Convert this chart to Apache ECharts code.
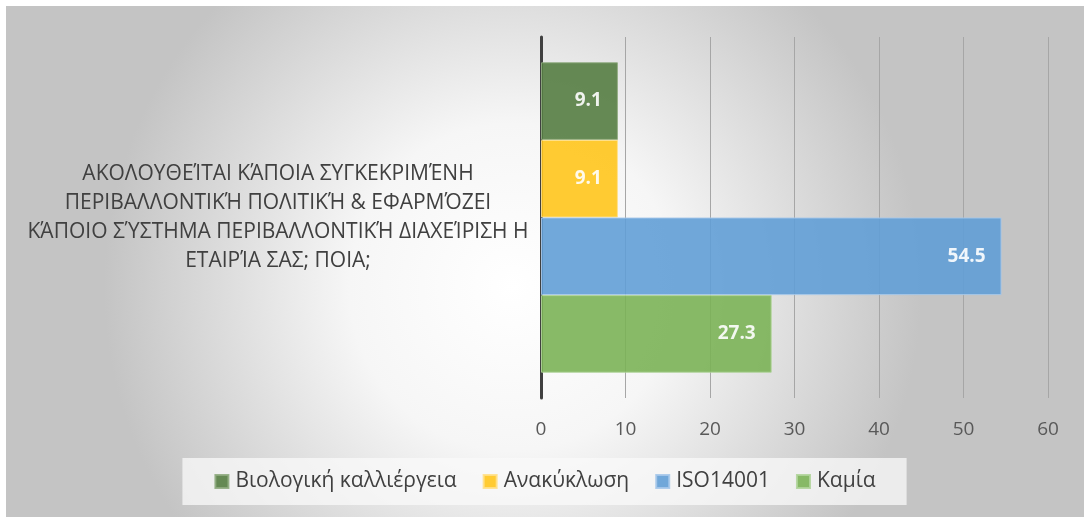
<!DOCTYPE html>
<html>
<head>
<meta charset="utf-8">
<script src="https://cdn.jsdelivr.net/npm/echarts@6/dist/echarts.min.js"></script>
<style>
  html, body { margin: 0; padding: 0; background: #fff; }
  #chart { position: absolute; left: 6px; top: 6px; width: 1078px; height: 511px; }
</style>
</head>
<body>
<div id="chart"></div>
<script>
const categories = ['ΑΚΟΛΟΥΘΕΊΤΑΙ ΚΆΠΟΙΑ ΣΥΓΚΕΚΡΙΜΈΝΗ\nΠΕΡΙΒΑΛΛΟΝΤΙΚΉ ΠΟΛΙΤΙΚΉ & ΕΦΑΡΜΌΖΕΙ\nΚΆΠΟΙΟ ΣΎΣΤΗΜΑ ΠΕΡΙΒΑΛΛΟΝΤΙΚΉ ΔΙΑΧΕΊΡΙΣΗ Η\nΕΤΑΙΡΊΑ ΣΑΣ; ΠΟΙΑ;'];
const seriesNames = ['Βιολογική καλλιέργεια', 'Ανακύκλωση', 'ISO14001', 'Καμία'];
const seriesValues = [[9.1], [9.1], [54.5], [27.3]];
const seriesColors = ['#557d42', '#ffc51c', '#629fd6', '#7bb356'];
const borderColors = ['#8fab80', '#ffe08a', '#a6c8ea', '#b0d49a'];
const xTicks = [0, 10, 20, 30, 40, 50, 60];

const font = '"Open Sans", "Noto Sans", sans-serif';
const chart = echarts.init(document.getElementById('chart'));

const series = seriesNames.map((name, i) => ({
  name,
  type: 'bar',
  data: seriesValues[i],
  barGap: '0%',
  barCategoryGap: '14%',
  itemStyle: {
    color: seriesColors[i],
    opacity: 0.9,
    borderColor: borderColors[i],
    borderWidth: 1
  },
  label: {
    show: true,
    position: 'insideRight',
    distance: 16,
    color: '#fff',
    fontFamily: font,
    fontWeight: 'bold',
    fontSize: 19
  }
}));

chart.setOption({
  backgroundColor: {
    type: 'radial', x: 0.47, y: 0.55, r: 0.8,
    colorStops: [
      { offset: 0, color: '#ffffff' },
      { offset: 0.4, color: '#f6f6f6' },
      { offset: 1, color: '#c4c4c4' }
    ]
  },
  animation: false,
  textStyle: { fontFamily: font },
  grid: { left: 535, right: 36, top: 31, bottom: 119 },
  legend: {
    bottom: 12,
    left: 'center',
    backgroundColor: 'rgba(250,250,250,0.75)',
    padding: [13, 31, 13, 32],
    itemWidth: 13,
    itemHeight: 13,
    itemGap: 26,
    icon: 'rect',
    textStyle: { color: '#404040', fontSize: 21, fontFamily: font, padding: [0, 0, 0, 2] },
    data: seriesNames
  },
  xAxis: {
    type: 'value',
    min: 0,
    max: 60,
    interval: 10,
    axisLine: { show: false },
    axisTick: { show: false },
    splitLine: { lineStyle: { color: '#a6a6a6', width: 1 } },
    axisLabel: {
      color: '#595959', fontSize: 19, margin: 22, fontFamily: font,
      formatter: v => xTicks.includes(v) ? String(v) : ''
    }
  },
  yAxis: {
    type: 'category',
    data: categories,
    inverse: true,
    axisLine: { show: true, lineStyle: { color: '#404040', width: 3 } },
    axisTick: { show: false },
    axisLabel: {
      color: '#404040', fontSize: 21, lineHeight: 29, align: 'center', margin: 263, fontFamily: font
    }
  },
  series
});
</script>
</body>
</html>
